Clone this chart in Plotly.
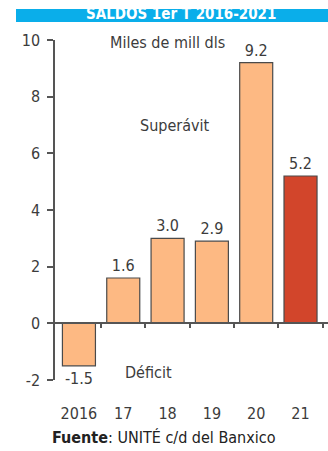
import plotly.graph_objects as go

# Quarterly balance, first quarter of each year (thousands of millions of dollars)
years = ["2016", "17", "18", "19", "20", "21"]
saldos = [-1.5, 1.6, 3.0, 2.9, 9.2, 5.2]
labels = ["-1.5", "1.6", "3.0", "2.9", "9.2", "5.2"]
y_ticks = [-2, 0, 2, 4, 6, 8, 10]
y_ticktext = ["-2", "0", "2", "4", "6", "8", "10"]

FONT = "DejaVu Sans Condensed, Liberation Sans Narrow, Roboto, sans-serif"
TXT = "#3c3c3c"
LIGHT = "#FDB983"
RED = "#D2452B"

xpos = list(range(len(years)))
colors = [LIGHT] * (len(years) - 1) + [RED]

fig = go.Figure()
fig.add_trace(go.Bar(
    x=xpos, y=saldos, width=0.745,
    marker=dict(color=colors, line=dict(color="#4a4a4a", width=1.2)),
    text=labels, textposition="outside",
    textfont=dict(family=FONT, size=16, color=TXT),
    cliponaxis=False, showlegend=False, hoverinfo="skip",
))
# helper trace so the zero-line axis gets drawn
fig.add_trace(go.Scatter(x=[0], y=[0], xaxis="x2", mode="markers",
                         marker=dict(opacity=0), showlegend=False, hoverinfo="skip"))

xr = [-0.54, 5.62]
fig.update_layout(
    width=328, height=451,
    margin=dict(l=55, r=0, t=40, b=71),
    paper_bgcolor="white", plot_bgcolor="white",
    font=dict(family=FONT, color=TXT),
    xaxis=dict(range=xr, tickvals=xpos, ticktext=years, showline=False,
               showgrid=False, zeroline=False, ticks="",
               ticklabelstandoff=22,
               tickfont=dict(family=FONT, size=16, color=TXT)),
    xaxis2=dict(range=xr, overlaying="x", anchor="free", position=2 / 12,
                showline=True, linecolor="#555", linewidth=1.5,
                ticks="outside", ticklen=4, tickcolor="#555", tickwidth=1.5,
                tickvals=[i + 0.5 for i in xpos], showticklabels=False,
                showgrid=False, zeroline=False),
    yaxis=dict(range=[-2, 10], tickvals=y_ticks, ticktext=y_ticktext, showline=True,
               linecolor="#555", linewidth=1.5, ticks="outside", ticklen=6,
               tickcolor="#555", tickwidth=1.5, showgrid=False, zeroline=False,
               ticklabelstandoff=4,
               tickfont=dict(family=FONT, size=16, color=TXT)),
    bargap=0.25,
)

# header band
fig.add_shape(type="rect", xref="paper", yref="paper",
              x0=(16 - 55) / 273, x1=1.0, y0=1 + 18 / 340, y1=1 + 31 / 340,
              fillcolor="#0AAEEA", line_width=0, layer="below")
fig.add_annotation(text="<b>SALDOS 1er T 2016-2021</b>", xref="paper", yref="paper",
                   x=(181 - 55) / 273, y=1 + 15 / 340, xanchor="center", yanchor="bottom",
                   showarrow=False, font=dict(family=FONT, size=15, color="white"))

notes = [
    ("Miles de mill dls", 2.0, 9.9),
    ("Superávit", 2.17, 7.0),
    ("Déficit", 1.56, -1.73),
]
for t, x, y in notes:
    fig.add_annotation(text=t, x=x, y=y, xref="x", yref="y", showarrow=False,
                       font=dict(family=FONT, size=16, color=TXT))

fig.add_annotation(text="<b>Fuente</b>: UNITÉ c/d del Banxico", xref="paper", yref="paper",
                   x=-5 / 273, y=-57 / 340, xanchor="left", yanchor="middle",
                   showarrow=False, font=dict(family=FONT, size=16, color="#222"))

fig.write_html("out.html")
